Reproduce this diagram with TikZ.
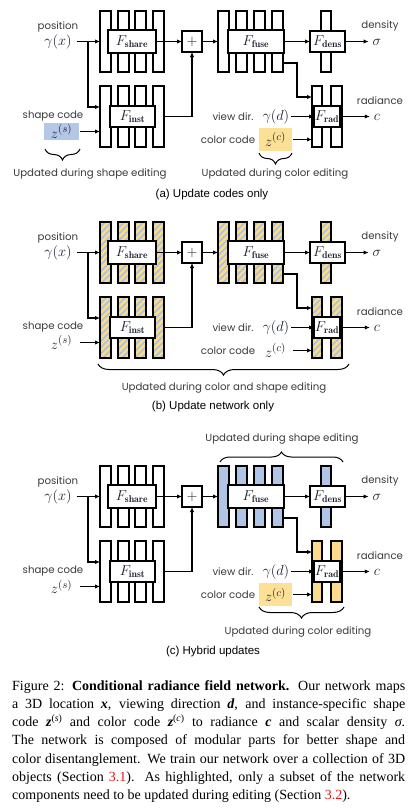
\documentclass[tikz,border=0pt]{standalone}
\usepackage{fontspec}
\newfontfamily\capfont{Liberation Serif}
\newfontfamily\subcapfont{Liberation Sans}
\newfontfamily\lblfont{Poppins}
\usetikzlibrary{arrows.meta,patterns.meta,decorations.pathreplacing}
\definecolor{hyellow}{RGB}{248,220,140}
\definecolor{hblue}{RGB}{170,192,228}
\definecolor{cblue}{RGB}{176,196,230}
\definecolor{cyellow}{RGB}{251,218,142}
\definecolor{zblue}{RGB}{180,199,231}
\definecolor{zyellow}{RGB}{252,224,150}
\definecolor{lblgray}{RGB}{60,60,60}
\definecolor{mathink}{RGB}{25,30,45}
\definecolor{refred}{RGB}{230,20,20}
\newcommand\mfont{\fontsize{14}{16}\selectfont}
\newcommand\lfont{\fontsize{15.5}{18}\selectfont}
\newcommand\capbi[1]{{\bfseries\itshape #1}}
\tikzset{
 col/.style={draw=black, line width=1.1pt, inner sep=0pt, outer sep=0pt, minimum width=11pt, minimum height=61pt, anchor=north west},
 plaincol/.style={fill=white},
 hatchcol/.style={preaction={fill=hyellow}, pattern={Lines[angle=45,distance=4.5pt,line width=1.6pt]}, pattern color=hblue},
 bluecol/.style={fill=cblue},
 yelcol/.style={fill=cyellow},
 fnbox/.style={draw=black, line width=1.1pt, fill=white, inner sep=0pt, outer sep=0pt, anchor=north west, font=\mfont, text=mathink},
 arr/.style={line width=1.1pt, -{Latex[length=5pt,width=4.5pt]}},
 lbl/.style={font=\lblfont\fontsize{10.2}{12}\selectfont, text=lblgray, inner sep=0pt},
 subl/.style={font=\subcapfont\fontsize{11.5}{13}\selectfont, text=black, inner sep=0pt},
 mth/.style={font=\lfont, text=mathink, inner sep=0pt},
 brc/.style={decorate, decoration={brace, amplitude=#1}, line width=1pt},
 brc/.default=10pt
}
\newcommand\netpanel[7]{%
\begin{scope}[yshift=-#2pt]
\foreach \i/\xx in {1/100,2/118,3/135,4/153}{
  \node[col,#3] (#1s\i) at (\xx,11) {};
  \node[col,#3] (#1i\i) at (\xx,86) {};
}
\foreach \i/\xx in {1/218,2/236,3/254,4/272}{
  \node[col,#4] (#1f\i) at (\xx,11) {};
}
\node[col,#4,minimum width=10pt] (#1d1) at (321,11) {};
\node[col,#5,minimum width=10pt] (#1r1) at (312,86) {};
\node[col,#5,minimum width=11pt] (#1r2) at (331,86) {};
\node[fnbox,minimum width=48pt,minimum height=23pt] (#1fs) at (108,30) {$F_{\mathbf{share}}$};
\node[fnbox,minimum width=45pt,minimum height=21pt] (#1fi) at (110,106) {$F_{\mathbf{inst}}$};
\node[fnbox,minimum width=20pt,minimum height=21pt] (#1pl) at (182,31) {$+$};
\node[fnbox,minimum width=56pt,minimum height=23pt] (#1ff) at (228,30) {$F_{\mathbf{fuse}}$};
\node[fnbox,minimum width=35pt,minimum height=21pt] (#1fd) at (310,31) {$F_{\mathbf{dens}}$};
\node[fnbox,minimum width=26pt,minimum height=21pt] (#1fr) at (314,106) {$F_{\mathbf{rad}}$};
\node[lbl] (#1pos) at (58,27) {position};
\node[mth] (#1gx) at (58,42) {$\gamma(x)$};
\node[lbl] (#1sc) at (53,116) {shape code};
\node[mth,minimum width=35pt,minimum height=17pt,#6] (#1zs) at (61.5,131.5) {$z^{(s)}$};
\node[lbl] (#1vd) at (233,116.5) {view dir.};
\node[mth] (#1gd) at (276,116.5) {$\gamma(d)$};
\node[lbl] (#1cl) at (228,140) {color code};
\node[mth,minimum width=33pt,minimum height=23pt,#7] (#1zc) at (275.5,139.5) {$z^{(c)}$};
\node[lbl] (#1den) at (380,26) {density};
\node[mth] (#1sg) at (377,42) {$\sigma$};
\node[lbl] (#1rad) at (380,101) {radiance};
\node[mth] (#1cc) at (377,117) {$c$};
\coordinate (#1br) at (88,41.5);
\coordinate (#1in1) at (100,107);
\coordinate (#1in2) at (100,131.5);
\coordinate (#1fo) at (283,63);
\coordinate (#1kn) at (297,97);
\coordinate (#1rin1) at (312,97);
\coordinate (#1rin2) at (312,139.5);
\draw[arr] ([xshift=5pt]#1gx.east |- #1s1.west) -- (#1s1.west);
\draw[arr] (#1br) |- (#1in1);
\draw[arr] ([xshift=1pt]#1zs.east) -- (#1in2);
\draw[arr] (#1fs.east) -- (#1pl.west);
\draw[arr] (#1i4.east) -| (#1pl.south);
\draw[arr] (#1pl.east) -- (#1f1.west);
\draw[arr] (#1ff.east) -- (#1fd.west);
\draw[arr,shorten >=4pt] (#1fd.east) -- (#1sg.west |- #1fd.east);
\draw[arr] (#1fo) -| (#1kn) -- (#1rin1);
\draw[arr] ([xshift=2pt]#1gd.east |- #1fr.west) -- (#1fr.west);
\draw[arr] ([xshift=1pt]#1zc.east) -- (#1rin2);
\draw[arr,shorten >=4pt] (#1fr.east) -- (#1cc.west |- #1fr.east);
\end{scope}}
\begin{document}
\begin{tikzpicture}[x=1pt,y=-1pt]
\fill[white] (0,0) rectangle (412,811);
\useasboundingbox (0,0) rectangle (412,811);
% panel (a)
\netpanel{a}{0}{plaincol}{plaincol}{plaincol}{fill=zblue}{fill=zyellow}
\draw[brc=11pt] (80,149) -- (45,149);
\node[lbl] (au1) at (90,174) {Updated during shape editing};
\draw[brc=11pt] (292,153) -- (259,153);
\node[lbl] (au2) at (275,174) {Updated during color editing};
\node[subl] (acap) at (212,195) {(a) Update codes only};
% panel (b)
\netpanel{b}{211}{hatchcol}{hatchcol}{hatchcol}{fill=none}{fill=none}
\draw[brc=11pt] (349,364) -- (98,364);
\node[lbl] (bu1) at (224,388) {Updated during color and shape editing};
\node[subl] (bcap) at (213,407) {(b) Update network only};
% panel (c)
\netpanel{c}{455}{plaincol}{bluecol}{yelcol}{fill=none}{fill=zyellow}
\draw[brc=10pt] (220,462) -- (343,462);
\node[lbl] (cu1) at (282,439) {Updated during shape editing};
\draw[brc=11pt] (344,607) -- (259,607);
\node[lbl] (cu2) at (298,632) {Updated during color editing};
\node[subl] (ccap) at (213,652) {(c) Hybrid updates};
% caption
\node[anchor=north west, inner sep=0pt, text width=393pt, align=justify,
  font=\capfont\fontsize{14}{18.3}\selectfont] (cap) at (12,680)
{Figure 2: \textbf{Conditional radiance field network.} Our network maps\linebreak
a 3D location \capbi{x}, viewing direction \capbi{d}, and instance-specific shape\linebreak
code \capbi{z}\textsuperscript{(\textit{s})} and color code \capbi{z}\textsuperscript{(\textit{c})} to radiance \capbi{c} and scalar density \textit{σ}.\linebreak
The network is composed of modular parts for better shape and\linebreak
color disentanglement. We train our network over a collection of 3D\linebreak
objects (Section \textcolor{refred}{3.1}). As highlighted, only a subset of the network\linebreak
components need to be updated during editing (Section \textcolor{refred}{3.2}).};
\end{tikzpicture}
\end{document}
